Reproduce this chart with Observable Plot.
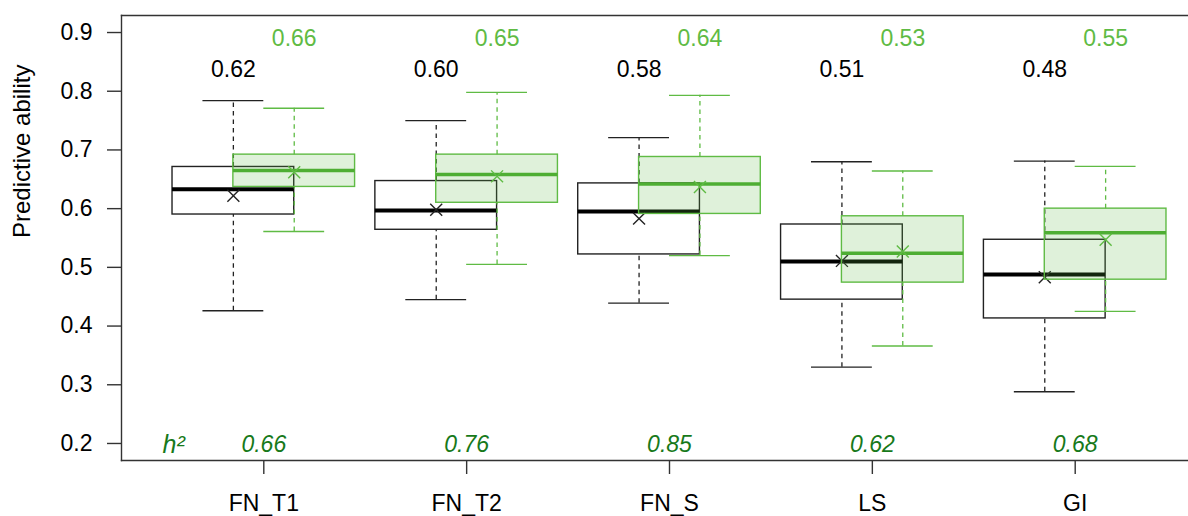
<!DOCTYPE html>
<html>
<head>
<meta charset="utf-8">
<script src="https://cdn.jsdelivr.net/npm/d3@7"></script>
<script src="https://cdn.jsdelivr.net/npm/@observablehq/plot@0.6"></script>
<style>
  html, body { margin: 0; padding: 0; background: white; overflow: hidden; }
  #chart { width: 1188px; height: 516px; overflow: hidden; }
  #chart svg { display: block; max-width: none !important; width: 1240px !important; }
</style>
</head>
<body>
<div id="chart"></div>
<script>
const categories = ["FN_T1", "FN_T2", "FN_S", "LS", "GI"];
const h2 = ["0.66", "0.76", "0.85", "0.62", "0.68"];

// Black series (left box)
const blackLow  = [0.426, 0.445, 0.439, 0.330, 0.288];
const blackQ1   = [0.590, 0.564, 0.522, 0.445, 0.413];
const blackMed  = [0.633, 0.597, 0.595, 0.510, 0.488];
const blackQ3   = [0.671, 0.647, 0.643, 0.573, 0.547];
const blackHigh = [0.784, 0.750, 0.721, 0.680, 0.681];
const blackMean = [0.622, 0.598, 0.583, 0.511, 0.483];
const blackLabels = ["0.62", "0.60", "0.58", "0.51", "0.48"];

// Green series (right box)
const greenLow  = [0.561, 0.505, 0.520, 0.366, 0.425];
const greenQ1   = [0.637, 0.610, 0.591, 0.474, 0.479];
const greenMed  = [0.665, 0.658, 0.642, 0.524, 0.559];
const greenQ3   = [0.692, 0.692, 0.688, 0.587, 0.600];
const greenHigh = [0.771, 0.798, 0.793, 0.664, 0.672];
const greenMean = [0.662, 0.655, 0.637, 0.527, 0.547];
const greenLabels = ["0.66", "0.65", "0.64", "0.53", "0.55"];

const yTicks = [0.2, 0.3, 0.4, 0.5, 0.6, 0.7, 0.8, 0.9];

const GREEN = "#5fbb44";
const GREEN_MED = "#4eae33";
const DARKGREEN = "#17791a";
const FONT = "'Liberation Sans', Arial, sans-serif";

const OFF = 0.15;   // offset of each box from its category
const HW = 0.3;     // half box width
const CAP = 0.15;   // half cap width

function series(low, q1, med, q3, high, mean, labels, side) {
  return categories.map((c, i) => ({
    cat: c, pos: i + 1 + side * OFF,
    low: low[i], q1: q1[i], med: med[i], q3: q3[i], high: high[i], mean: mean[i], label: labels[i]
  }));
}
const black = series(blackLow, blackQ1, blackMed, blackQ3, blackHigh, blackMean, blackLabels, -1);
const green = series(greenLow, greenQ1, greenMed, greenQ3, greenHigh, greenMean, greenLabels, +1);
const h2Data = categories.map((c, i) => ({pos: i + 1, h: h2[i]}));

function boxMarks(data, color, medColor, medWidth, fill, fillOpacity) {
  return [
    Plot.ruleX(data, {x: "pos", y1: "q3", y2: "high", stroke: color, strokeWidth: 1.3, strokeDasharray: "4.5,4"}),
    Plot.ruleX(data, {x: "pos", y1: "low", y2: "q1", stroke: color, strokeWidth: 1.3, strokeDasharray: "4.5,4"}),
    Plot.ruleY(data, {y: "high", x1: d => d.pos - CAP, x2: d => d.pos + CAP, stroke: color, strokeWidth: 1.4}),
    Plot.ruleY(data, {y: "low", x1: d => d.pos - CAP, x2: d => d.pos + CAP, stroke: color, strokeWidth: 1.4}),
    Plot.rect(data, {x1: d => d.pos - HW, x2: d => d.pos + HW, y1: "q1", y2: "q3",
      fill, fillOpacity, stroke: color, strokeWidth: 1.4}),
    Plot.ruleY(data, {y: "med", x1: d => d.pos - HW, x2: d => d.pos + HW, stroke: medColor, strokeWidth: medWidth}),
    Plot.dot(data, {x: "pos", y: "mean", symbol: "times", r: 5.5, stroke: color, strokeWidth: 1.4}),
  ];
}

const chart = Plot.plot({
  width: 1240,
  height: 516,
  marginLeft: 121,
  marginRight: 0,
  marginTop: 15,
  marginBottom: 56,
  style: {fontFamily: FONT, background: "white"},
  x: {domain: [0.2985, 1 + (1240 - 263.3) / 202.85], ticks: [1, 2, 3, 4, 5]},
  y: {domain: [0.171, 0.929]},
  marks: [
    Plot.frame({anchor: "top", stroke: "#333", strokeWidth: 1.4}),
    Plot.frame({anchor: "left", stroke: "#333", strokeWidth: 1.4}),
    Plot.frame({anchor: "bottom", stroke: "#333", strokeWidth: 1.4}),
    Plot.axisY({ticks: yTicks, tickSize: 14, tickPadding: 15, tickFormat: d3.format(".1f"),
      fontSize: 23, stroke: "#333", strokeWidth: 1.4, fill: "black", label: null}),
    Plot.axisX({ticks: [1, 2, 3, 4, 5], tickSize: 14, tickPadding: 20, tickFormat: d => categories[d - 1],
      fontSize: 23, stroke: "#333", strokeWidth: 1.4, fill: "black", label: null}),
    Plot.text(["Predictive ability"], {frameAnchor: "left", dx: -99, rotate: -90, fontSize: 24, fill: "black"}),
    ...boxMarks(black, "#222", "#000", 4, "white", 1),
    ...boxMarks(green, GREEN, GREEN_MED, 3.5, GREEN, 0.2),
    Plot.text(black, {x: "pos", text: "label", frameAnchor: "top", lineAnchor: "middle", dy: 54, fontSize: 23, fill: "black"}),
    Plot.text(green, {x: "pos", text: "label", frameAnchor: "top", lineAnchor: "middle", dy: 23, fontSize: 23, fill: GREEN}),
    Plot.text(h2Data, {x: "pos", text: "h", frameAnchor: "bottom", lineAnchor: "middle", dy: -16, fontSize: 23, fontStyle: "italic", fill: DARKGREEN}),
    Plot.text(["h²"], {frameAnchor: "bottom-left", lineAnchor: "middle", dx: 41, dy: -16, fontSize: 25, fontStyle: "italic", fill: DARKGREEN}),
  ]
});
document.getElementById("chart").appendChild(chart);
</script>
</body>
</html>
